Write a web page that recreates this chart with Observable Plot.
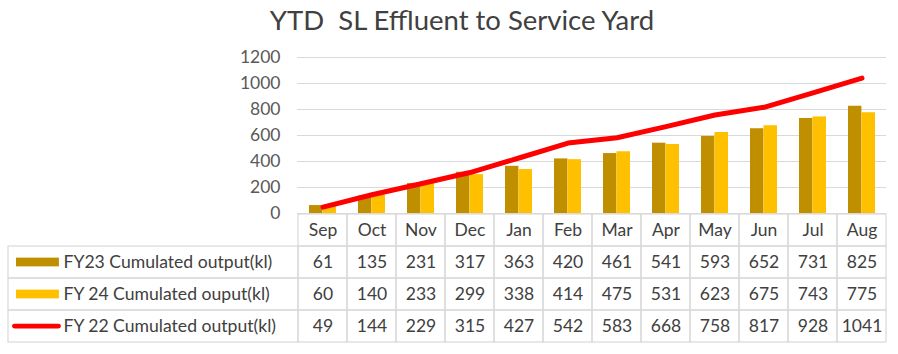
<!DOCTYPE html>
<html><head><meta charset="utf-8">
<script src="https://cdn.jsdelivr.net/npm/d3@7"></script>
<script src="https://cdn.jsdelivr.net/npm/@observablehq/plot@0.6"></script>
<style>
body{margin:0;background:#fff;font-family:Lato,sans-serif;width:898px;height:354px;overflow:hidden;}
#title{height:40px;line-height:40px;font-size:27.5px;color:#404040;text-align:center;padding-left:26px;white-space:pre;box-sizing:border-box;width:898px;}
svg{display:block;}
</style></head><body>
<div id="title">YTD  SL Effluent to Service Yard</div>
<div id="chart"></div>
<div id="table"></div>
<script>
const months = ["Sep","Oct","Nov","Dec","Jan","Feb","Mar","Apr","May","Jun","Jul","Aug"];
const fy23 = [61,135,231,317,363,420,461,541,593,652,731,825];
const fy24 = [60,140,233,299,338,414,475,531,623,675,743,775];
const fy22 = [49,144,229,315,427,542,583,668,758,817,928,1041];
const seriesKeys = ["FY23","FY24","FY22"];
const seriesLabels = ["FY23 Cumulated output(kl)","FY 24 Cumulated ouput(kl)","FY 22 Cumulated output(kl)"];
const yTicks = [0,200,400,600,800,1000,1200];

const cDark = "#BF8F00", cYellow = "#FFC000", cRed = "#FF0000", grid = "#d9d9d9", txt = "#404040";

const d23 = months.map((m,i)=>({month:m, value:fy23[i]}));
const d24 = months.map((m,i)=>({month:m, value:fy24[i]}));
const d22 = months.map((m,i)=>({month:m, value:fy22[i]}));

const W = 898, ML = 297, MR = 12;
const bw = (W - ML - MR) / months.length;

const chart = Plot.plot({
  width: W, height: 173,
  marginTop: 17, marginBottom: 0, marginLeft: ML, marginRight: MR,
  style: {fontFamily: "Lato, sans-serif", fontSize: "17px", overflow: "visible", background: "transparent"},
  x: {type: "band", domain: months, padding: 0, axis: null},
  y: {domain: [0, 1200], axis: null},
  marks: [
    Plot.gridY(yTicks, {stroke: grid, strokeOpacity: 1, strokeWidth: 1.2}),
    Plot.axisY(yTicks, {tickSize: 0, tickPadding: 17, fill: "#595959", fontSize: 17.5, label: null, tickFormat: d => String(d)}),
    Plot.barY(d23, {x: "month", y: "value", fill: cDark, insetLeft: 11, insetRight: bw - 24.5}),
    Plot.barY(d24, {x: "month", y: "value", fill: cYellow, insetLeft: 24.5, insetRight: 11}),
    Plot.lineY(d22, {x: "month", y: "value", stroke: cRed, strokeWidth: 5, strokeLinecap: "round", strokeLinejoin: "round"})
  ]
});
document.getElementById("chart").appendChild(chart);

const rows = ["month", ...seriesKeys];
const cells = [];
months.forEach(m => rows.forEach(r => cells.push({month: m, row: r})));
const vals = [];
[fy23, fy24, fy22].forEach((arr, k) => arr.forEach((v, i) => vals.push({month: months[i], row: seriesKeys[k], v})));
const labels = seriesKeys.map((k, i) => ({row: k, label: seriesLabels[i]}));
const rowH = 129 / 4;

const table = Plot.plot({
  width: W, height: 141,
  marginTop: 0, marginBottom: 12, marginLeft: ML, marginRight: MR,
  style: {fontFamily: "Lato, sans-serif", fontSize: "17px", overflow: "visible", background: "transparent"},
  x: {type: "band", domain: months, padding: 0, axis: null},
  y: {type: "band", domain: rows, padding: 0, axis: null},
  marks: [
    Plot.cell(cells, {x: "month", y: "row", stroke: grid, strokeWidth: 1.2, fill: "none"}),
    Plot.cell(labels, {x: () => "Sep", y: "row", stroke: grid, strokeWidth: 1.2, fill: "none", insetLeft: 7 - ML, insetRight: bw}),
    Plot.cell(labels.slice(0,1), {x: () => "Sep", y: "row", fill: cDark, insetLeft: 15 - ML, insetRight: ML + bw - 58, insetTop: (rowH - 9)/2, insetBottom: (rowH - 9)/2}),
    Plot.cell(labels.slice(1,2), {x: () => "Sep", y: "row", fill: cYellow, insetLeft: 15 - ML, insetRight: ML + bw - 58, insetTop: (rowH - 9)/2, insetBottom: (rowH - 9)/2}),
    Plot.cell(labels.slice(2,3), {x: () => "Sep", y: "row", fill: cRed, rx: 2.5, insetLeft: 11 - ML, insetRight: ML + bw - 60, insetTop: (rowH - 5)/2, insetBottom: (rowH - 5)/2}),
    Plot.text(labels, {x: () => "Sep", y: "row", text: "label", textAnchor: "start", dx: 62 - (ML + bw/2), fill: txt, fontSize: 17.6}),
    Plot.text(months, {x: d => d, y: () => "month", text: d => d, fill: txt, fontSize: 17.5}),
    Plot.text(vals, {x: "month", y: "row", text: d => String(d.v), fill: txt, fontSize: 17.5})
  ]
});
document.getElementById("table").appendChild(table);
</script>
</body></html>
